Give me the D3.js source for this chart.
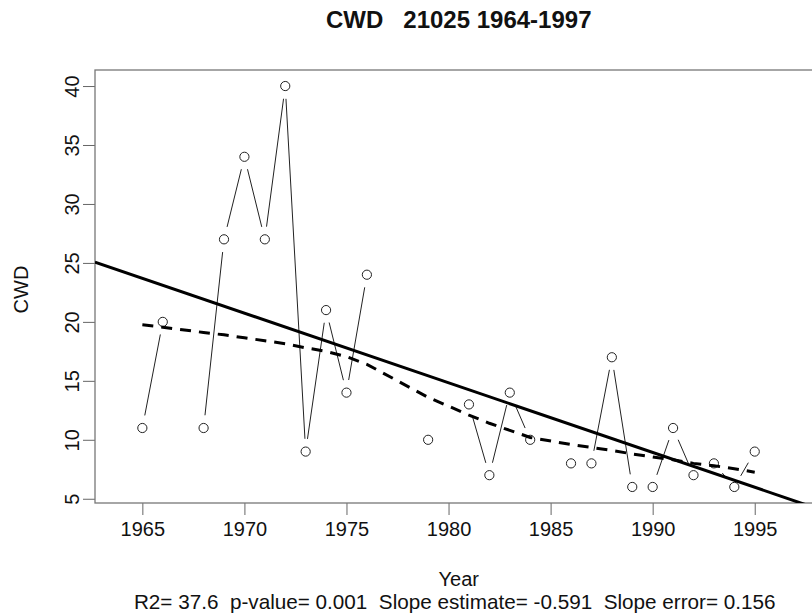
<!DOCTYPE html>
<html>
<head>
<meta charset="utf-8">
<script src="https://cdn.jsdelivr.net/npm/d3@7"></script>
<style>
    body { margin: 0; background: #fff; }
    svg { display: block; font-family: "Liberation Sans", Arial, sans-serif; }
</style>
</head>
<body>
<div id="chart"></div>
<script>
// yearly CWD values, null = missing year
var years = [1965, 1966, 1967, 1968, 1969, 1970, 1971, 1972, 1973, 1974, 1975, 1976, 1977, 1978, 1979, 1980,
    1981, 1982, 1983, 1984, 1985, 1986, 1987, 1988, 1989, 1990, 1991, 1992, 1993, 1994, 1995];
var cwd = [11, 20, null, 11, 27, 34, 27, 40, 9, 21, 14, 24, null, null, 10, null,
    13, 7, 14, 10, null, 8, 8, 17, 6, 6, 11, 7, 8, 6, 9];

// lowess smooth (dashed)
var smoothYears = [1965, 1966, 1968, 1969, 1970, 1971, 1972, 1973, 1974, 1975, 1976, 1979,
    1981, 1982, 1983, 1984, 1986, 1987, 1988, 1989, 1990, 1991, 1992, 1993, 1994, 1995];
var smoothCwd = [19.75, 19.55, 19.1, 18.9, 18.65, 18.4, 18.15, 17.8, 17.5, 17.05, 16.4, 13.6,
    12.1, 11.4, 10.8, 10.2, 9.6, 9.35, 9.1, 8.8, 8.55, 8.3, 8.0, 7.8, 7.55, 7.25];

// linear fit (solid), drawn across the plot region
var trendYears = [1962.68, 1998.32];
var trendCwd = [25.07, 4.01];

var xTicks = [1965, 1970, 1975, 1980, 1985, 1990, 1995];
var yTicks = [5, 10, 15, 20, 25, 30, 35, 40];

var titleText = 'CWD   21025 1964-1997';
var xLabel = 'Year';
var yLabel = 'CWD';
var subText = 'R2= 37.6  p-value= 0.001  Slope estimate= -0.591  Slope error= 0.156';

window.onload = start;

function start() {
    var width = 812;
    var height = 614;
    var left = 95;
    var right = 822.5;
    var top = 70;
    var bottom = 503;
    var tickLen = 12;
    var gap = 12.8;

    var svg = d3
        .select('#chart')
        .append('svg')
        .attr('width', width)
        .attr('height', height);

    var xScale = d3.scaleLinear().domain([1962.68, 1998.32]).range([left, right]);
    var yScale = d3.scaleLinear().domain([4.64, 41.36]).range([bottom, top]);

    svg.append('defs')
        .append('clipPath')
        .attr('id', 'plotClip')
        .append('rect')
        .attr('x', left)
        .attr('y', top)
        .attr('width', right - left)
        .attr('height', bottom - top);

    // title
    svg.append('text')
        .attr('x', (left + right) / 2)
        .attr('y', 28)
        .attr('text-anchor', 'middle')
        .style('font-size', '24px')
        .style('font-weight', 'bold')
        .style('white-space', 'pre')
        .attr('fill', '#111')
        .text(titleText);

    // axes
    var xAxis = d3.axisBottom(xScale).tickValues(xTicks).tickSize(tickLen).tickFormat(d3.format('d'));
    var yAxis = d3.axisLeft(yScale).tickValues(yTicks).tickSize(tickLen);

    var gx = svg.append('g')
        .attr('transform', 'translate(0,' + bottom + ')')
        .call(xAxis);
    gx.select('.domain').remove();
    gx.selectAll('line').attr('stroke', '#666');
    gx.selectAll('text')
        .attr('y', 33)
        .attr('dy', 0)
        .attr('fill', '#111')
        .style('font-size', '20px');

    var gy = svg.append('g')
        .attr('transform', 'translate(' + left + ',0)')
        .call(yAxis);
    gy.select('.domain').remove();
    gy.selectAll('line').attr('stroke', '#666');
    gy.selectAll('text')
        .attr('transform', 'rotate(-90)')
        .attr('x', 0)
        .attr('y', -16)
        .attr('dy', 0)
        .attr('text-anchor', 'middle')
        .attr('fill', '#111')
        .style('font-size', '20px');

    // plot box
    svg.append('rect')
        .attr('x', left)
        .attr('y', top)
        .attr('width', right - left)
        .attr('height', bottom - top)
        .attr('fill', 'none')
        .attr('stroke', '#777')
        .attr('stroke-width', 1.3);

    // axis titles
    svg.append('text')
        .attr('x', (left + right) / 2)
        .attr('y', 586)
        .attr('text-anchor', 'middle')
        .style('font-size', '20px')
        .attr('fill', '#111')
        .text(xLabel);
    svg.append('text')
        .attr('transform', 'translate(28,' + ((top + bottom) / 2 + 3) + ') rotate(-90)')
        .attr('text-anchor', 'middle')
        .style('font-size', '20px')
        .attr('fill', '#111')
        .text(yLabel);
    svg.append('text')
        .attr('x', (left + right) / 2 - 4)
        .attr('y', 609)
        .attr('text-anchor', 'middle')
        .style('font-size', '20.7px')
        .style('white-space', 'pre')
        .attr('fill', '#111')
        .text(subText);

    var plot = svg.append('g').attr('clip-path', 'url(#plotClip)');

    // type="b": segments between consecutive years, with gaps round the points
    var pts = years.map(function(y, i) {
        return { year: y, value: cwd[i] };
    });
    var segs = [];
    for (var i = 1; i < pts.length; i++) {
        var a = pts[i - 1];
        var b = pts[i];
        if (a.value == null || b.value == null) continue;
        var x1 = xScale(a.year), y1 = yScale(a.value);
        var x2 = xScale(b.year), y2 = yScale(b.value);
        var len = Math.sqrt((x2 - x1) * (x2 - x1) + (y2 - y1) * (y2 - y1));
        if (len <= 2 * gap) continue;
        var ux = (x2 - x1) / len, uy = (y2 - y1) / len;
        segs.push({ x1: x1 + ux * gap, y1: y1 + uy * gap, x2: x2 - ux * gap, y2: y2 - uy * gap });
    }
    plot.append('g')
        .selectAll('line')
        .data(segs)
        .enter()
        .append('line')
        .attr('x1', function(d) { return d.x1; })
        .attr('y1', function(d) { return d.y1; })
        .attr('x2', function(d) { return d.x2; })
        .attr('y2', function(d) { return d.y2; })
        .attr('stroke', '#222')
        .attr('stroke-width', 1);

    // points
    plot.append('g')
        .selectAll('circle')
        .data(pts.filter(function(d) { return d.value != null; }))
        .enter()
        .append('circle')
        .attr('cx', function(d) { return xScale(d.year); })
        .attr('cy', function(d) { return yScale(d.value); })
        .attr('r', 4.6)
        .attr('fill', 'none')
        .attr('stroke', '#222')
        .attr('stroke-width', 1);

    // linear trend
    var trendLine = d3.line()
        .x(function(d) { return xScale(d[0]); })
        .y(function(d) { return yScale(d[1]); });
    plot.append('path')
        .datum(trendYears.map(function(y, i) { return [y, trendCwd[i]]; }))
        .attr('d', trendLine)
        .attr('fill', 'none')
        .attr('stroke', '#000')
        .attr('stroke-width', 3);

    // lowess
    plot.append('path')
        .datum(smoothYears.map(function(y, i) { return [y, smoothCwd[i]]; }))
        .attr('d', trendLine)
        .attr('fill', 'none')
        .attr('stroke', '#000')
        .attr('stroke-width', 3)
        .attr('stroke-dasharray', '11,8');
}
</script>
</body>
</html>
